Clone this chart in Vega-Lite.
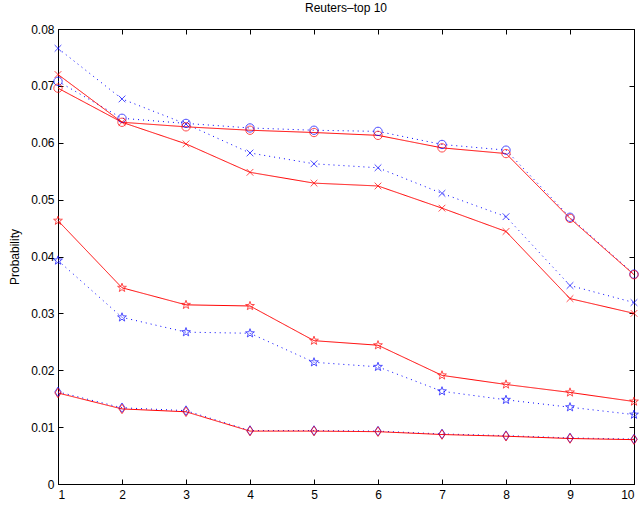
{
  "$schema": "https://vega.github.io/schema/vega-lite/v6.json",
  "width": 576,
  "height": 455,
  "autosize": {"type": "none"},
  "padding": {"left": 58, "top": 29, "right": 10, "bottom": 22},
  "background": "white",
  "config": {
    "view": {"stroke": "black", "strokeWidth": 1},
    "font": "Liberation Sans",
    "axis": {"grid": false, "domainColor": "black", "tickColor": "black", "labelColor": "black", "labelFont": "Liberation Sans", "labelFontSize": 12, "tickSize": -5, "titleFont": "Liberation Sans", "titleFontSize": 12, "titleFontWeight": "normal", "titleColor": "black"}
  },
  "title": {"text": "Reuters–top 10", "fontSize": 12, "fontWeight": "normal", "font": "Liberation Sans", "color": "black", "anchor": "middle", "offset": 8},
  "datasets": {
    "rows": [
      {"series":"blue-o","model":"blue","marker":"o","rank":1,"prob":0.0708},
      {"series":"blue-o","model":"blue","marker":"o","rank":2,"prob":0.0643},
      {"series":"blue-o","model":"blue","marker":"o","rank":3,"prob":0.0634},
      {"series":"blue-o","model":"blue","marker":"o","rank":4,"prob":0.0626},
      {"series":"blue-o","model":"blue","marker":"o","rank":5,"prob":0.0622},
      {"series":"blue-o","model":"blue","marker":"o","rank":6,"prob":0.0620},
      {"series":"blue-o","model":"blue","marker":"o","rank":7,"prob":0.0597},
      {"series":"blue-o","model":"blue","marker":"o","rank":8,"prob":0.0587},
      {"series":"blue-o","model":"blue","marker":"o","rank":9,"prob":0.0469},
      {"series":"blue-o","model":"blue","marker":"o","rank":10,"prob":0.0369},
      {"series":"blue-x","model":"blue","marker":"x","rank":1,"prob":0.0766},
      {"series":"blue-x","model":"blue","marker":"x","rank":2,"prob":0.0677},
      {"series":"blue-x","model":"blue","marker":"x","rank":3,"prob":0.0633},
      {"series":"blue-x","model":"blue","marker":"x","rank":4,"prob":0.0582},
      {"series":"blue-x","model":"blue","marker":"x","rank":5,"prob":0.0563},
      {"series":"blue-x","model":"blue","marker":"x","rank":6,"prob":0.0556},
      {"series":"blue-x","model":"blue","marker":"x","rank":7,"prob":0.0511},
      {"series":"blue-x","model":"blue","marker":"x","rank":8,"prob":0.0470},
      {"series":"blue-x","model":"blue","marker":"x","rank":9,"prob":0.0349},
      {"series":"blue-x","model":"blue","marker":"x","rank":10,"prob":0.0319},
      {"series":"blue-star","model":"blue","marker":"star","rank":1,"prob":0.0393},
      {"series":"blue-star","model":"blue","marker":"star","rank":2,"prob":0.0293},
      {"series":"blue-star","model":"blue","marker":"star","rank":3,"prob":0.0267},
      {"series":"blue-star","model":"blue","marker":"star","rank":4,"prob":0.0265},
      {"series":"blue-star","model":"blue","marker":"star","rank":5,"prob":0.0214},
      {"series":"blue-star","model":"blue","marker":"star","rank":6,"prob":0.0206},
      {"series":"blue-star","model":"blue","marker":"star","rank":7,"prob":0.0163},
      {"series":"blue-star","model":"blue","marker":"star","rank":8,"prob":0.0148},
      {"series":"blue-star","model":"blue","marker":"star","rank":9,"prob":0.0135},
      {"series":"blue-star","model":"blue","marker":"star","rank":10,"prob":0.0122},
      {"series":"blue-d","model":"blue","marker":"d","rank":1,"prob":0.0162},
      {"series":"blue-d","model":"blue","marker":"d","rank":2,"prob":0.0134},
      {"series":"blue-d","model":"blue","marker":"d","rank":3,"prob":0.0129},
      {"series":"blue-d","model":"blue","marker":"d","rank":4,"prob":0.0094},
      {"series":"blue-d","model":"blue","marker":"d","rank":5,"prob":0.0094},
      {"series":"blue-d","model":"blue","marker":"d","rank":6,"prob":0.0093},
      {"series":"blue-d","model":"blue","marker":"d","rank":7,"prob":0.0088},
      {"series":"blue-d","model":"blue","marker":"d","rank":8,"prob":0.0085},
      {"series":"blue-d","model":"blue","marker":"d","rank":9,"prob":0.0081},
      {"series":"blue-d","model":"blue","marker":"d","rank":10,"prob":0.0079},
      {"series":"red-o","model":"red","marker":"o","rank":1,"prob":0.0696},
      {"series":"red-o","model":"red","marker":"o","rank":2,"prob":0.0636},
      {"series":"red-o","model":"red","marker":"o","rank":3,"prob":0.0628},
      {"series":"red-o","model":"red","marker":"o","rank":4,"prob":0.0622},
      {"series":"red-o","model":"red","marker":"o","rank":5,"prob":0.0618},
      {"series":"red-o","model":"red","marker":"o","rank":6,"prob":0.0613},
      {"series":"red-o","model":"red","marker":"o","rank":7,"prob":0.0591},
      {"series":"red-o","model":"red","marker":"o","rank":8,"prob":0.0581},
      {"series":"red-o","model":"red","marker":"o","rank":9,"prob":0.0467},
      {"series":"red-o","model":"red","marker":"o","rank":10,"prob":0.0368},
      {"series":"red-x","model":"red","marker":"x","rank":1,"prob":0.0720},
      {"series":"red-x","model":"red","marker":"x","rank":2,"prob":0.0636},
      {"series":"red-x","model":"red","marker":"x","rank":3,"prob":0.0598},
      {"series":"red-x","model":"red","marker":"x","rank":4,"prob":0.0548},
      {"series":"red-x","model":"red","marker":"x","rank":5,"prob":0.0529},
      {"series":"red-x","model":"red","marker":"x","rank":6,"prob":0.0524},
      {"series":"red-x","model":"red","marker":"x","rank":7,"prob":0.0485},
      {"series":"red-x","model":"red","marker":"x","rank":8,"prob":0.0444},
      {"series":"red-x","model":"red","marker":"x","rank":9,"prob":0.0326},
      {"series":"red-x","model":"red","marker":"x","rank":10,"prob":0.0300},
      {"series":"red-star","model":"red","marker":"star","rank":1,"prob":0.0463},
      {"series":"red-star","model":"red","marker":"star","rank":2,"prob":0.0345},
      {"series":"red-star","model":"red","marker":"star","rank":3,"prob":0.0315},
      {"series":"red-star","model":"red","marker":"star","rank":4,"prob":0.0313},
      {"series":"red-star","model":"red","marker":"star","rank":5,"prob":0.0252},
      {"series":"red-star","model":"red","marker":"star","rank":6,"prob":0.0244},
      {"series":"red-star","model":"red","marker":"star","rank":7,"prob":0.0191},
      {"series":"red-star","model":"red","marker":"star","rank":8,"prob":0.0175},
      {"series":"red-star","model":"red","marker":"star","rank":9,"prob":0.0161},
      {"series":"red-star","model":"red","marker":"star","rank":10,"prob":0.0145},
      {"series":"red-d","model":"red","marker":"d","rank":1,"prob":0.0160},
      {"series":"red-d","model":"red","marker":"d","rank":2,"prob":0.0132},
      {"series":"red-d","model":"red","marker":"d","rank":3,"prob":0.0127},
      {"series":"red-d","model":"red","marker":"d","rank":4,"prob":0.0093},
      {"series":"red-d","model":"red","marker":"d","rank":5,"prob":0.0093},
      {"series":"red-d","model":"red","marker":"d","rank":6,"prob":0.0092},
      {"series":"red-d","model":"red","marker":"d","rank":7,"prob":0.0087},
      {"series":"red-d","model":"red","marker":"d","rank":8,"prob":0.0084},
      {"series":"red-d","model":"red","marker":"d","rank":9,"prob":0.0080},
      {"series":"red-d","model":"red","marker":"d","rank":10,"prob":0.0078}
    ]
  },
  "data": {"name": "rows"},
  "resolve": {"axis": {"x": "independent", "y": "independent"}},
  "layer": [
    {
      "mark": {"type": "line", "strokeWidth": 1, "clip": false},
      "encoding": {
        "x": {"field": "rank", "type": "quantitative", "scale": {"domain": [1, 10], "nice": false, "zero": false},
              "axis": {"orient": "bottom", "values": [1,2,3,4,5,6,7,8,9,10], "format": "d", "title": null, "labelPadding": 10}},
        "y": {"field": "prob", "type": "quantitative", "scale": {"domain": [0, 0.08], "nice": false},
              "axis": {"orient": "left", "values": [0,0.01,0.02,0.03,0.04,0.05,0.06,0.07,0.08], "labelExpr": "datum.value == 0 ? '0' : format(datum.value, '.2f')", "title": "Probability", "titlePadding": 9, "labelPadding": 9}},
        "color": {"field": "model", "type": "nominal", "scale": {"domain": ["blue", "red"], "range": ["#0000ff", "#ff0000"]}, "legend": null},
        "strokeDash": {"field": "model", "type": "nominal", "scale": {"domain": ["blue", "red"], "range": [[1, 4], [1, 0]]}, "legend": null},
        "detail": {"field": "series"}
      }
    },
    {
      "mark": {"type": "point", "filled": false, "strokeWidth": 1, "size": 70, "clip": false},
      "encoding": {
        "x": {"field": "rank", "type": "quantitative", "axis": {"orient": "top", "values": [1,2,3,4,5,6,7,8,9,10], "labels": false, "title": null}},
        "y": {"field": "prob", "type": "quantitative", "axis": {"orient": "right", "values": [0,0.01,0.02,0.03,0.04,0.05,0.06,0.07,0.08], "labels": false, "title": null}},
        "color": {"field": "model", "type": "nominal", "legend": null},
        "shape": {"field": "marker", "type": "nominal", "legend": null,
                  "scale": {"domain": ["o", "x", "star", "d"],
                            "range": ["circle", "M-0.8,-0.8L0.8,0.8M0.8,-0.8L-0.8,0.8", "M0,-1.1L0.26,-0.36L1.05,-0.34L0.42,0.14L0.65,0.89L0,0.44L-0.65,0.89L-0.42,0.14L-1.05,-0.34L-0.26,-0.36Z", "M0,-1.15L0.75,0L0,1.15L-0.75,0Z"]}},
        "detail": {"field": "series"}
      }
    }
  ]
}
